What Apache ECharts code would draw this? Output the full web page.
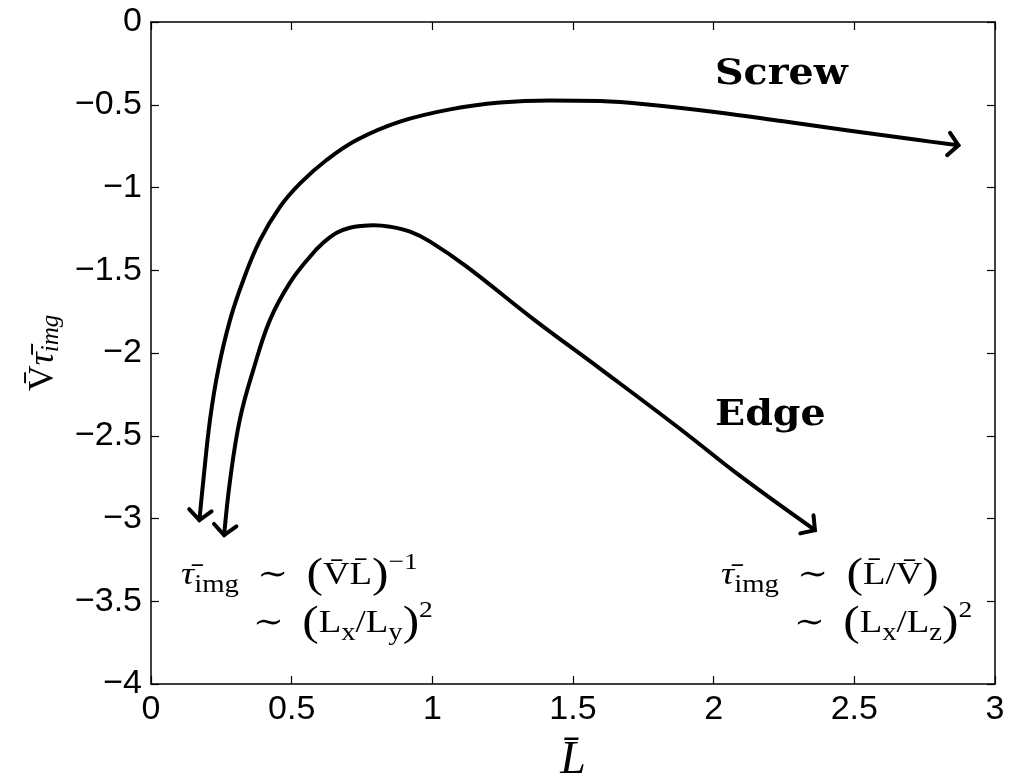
<!DOCTYPE html>
<html>
<head>
<meta charset="utf-8">
<script src="https://cdn.jsdelivr.net/npm/echarts@6/dist/echarts.min.js"></script>
<style>
html,body{margin:0;padding:0;background:#fff;}
#chart{width:1009px;height:780px;}
</style>
</head>
<body>
<div id="chart"></div>
<script>
// ---- data ----
const xTicks = [0, 0.5, 1, 1.5, 2, 2.5, 3];
const yTicks = [0, -0.5, -1, -1.5, -2, -2.5, -3, -3.5, -4];

const screwX = [0.172, 0.186, 0.210, 0.239, 0.281, 0.328, 0.387, 0.459, 0.530, 0.624, 0.731, 0.885, 1.063, 1.241, 1.418, 1.596, 1.774, 2.011, 2.247, 2.485, 2.722, 2.870];
const screwY = [-3.01, -2.77, -2.40, -2.10, -1.80, -1.56, -1.32, -1.116, -0.975, -0.834, -0.713, -0.602, -0.528, -0.487, -0.474, -0.478, -0.500, -0.545, -0.600, -0.657, -0.712, -0.745];

const edgeX = [0.260, 0.281, 0.316, 0.364, 0.423, 0.494, 0.565, 0.613, 0.660, 0.707, 0.755, 0.790, 0.850, 0.921, 0.992, 1.122, 1.359, 1.596, 1.881, 2.094, 2.360];
const edgeY = [-3.10, -2.77, -2.40, -2.10, -1.80, -1.575, -1.418, -1.333, -1.273, -1.243, -1.231, -1.228, -1.237, -1.267, -1.327, -1.478, -1.795, -2.094, -2.459, -2.743, -3.07];

// ---- build ----
const zip = (xs, ys) => xs.map((x, i) => [x, ys[i]]);

function lineSeries(xs, ys) {
  return {
    type: 'line', data: zip(xs, ys), showSymbol: false, symbol: 'none',
    smooth: 0.4,
    lineStyle: { color: '#000', width: 4, cap: 'round', join: 'round' },
    silent: true, z: 3
  };
}

// arrowheads at both ends, direction taken from the curve ends
function arrowSeries(xs, ys) {
  const n = xs.length;
  return {
    type: 'custom', silent: true, z: 4,
    data: [
      [xs[0], ys[0], xs[1], ys[1]],
      [xs[n - 1], ys[n - 1], xs[n - 2], ys[n - 2]]
    ],
    renderItem(params, api) {
      const tip = api.coord([api.value(0), api.value(1)]);
      const prev = api.coord([api.value(2), api.value(3)]);
      const ang = Math.atan2(tip[1] - prev[1], tip[0] - prev[0]);
      const L = 15, a = Math.PI * 0.27;
      const p1 = [tip[0] - L * Math.cos(ang - a), tip[1] - L * Math.sin(ang - a)];
      const p2 = [tip[0] - L * Math.cos(ang + a), tip[1] - L * Math.sin(ang + a)];
      return {
        type: 'polyline',
        shape: { points: [p1, tip, p2] },
        style: { stroke: '#000', lineWidth: 4, fill: null, lineJoin: 'miter', lineCap: 'round' }
      };
    }
  };
}

const tickFont = { fontFamily: '"Liberation Sans", Arial, sans-serif', fontSize: 34, color: '#000' };
const fmt = v => String(v).replace('-', '\u2212');

function axisCommon(extra) {
  return Object.assign({
    type: 'value',
    axisLine: { show: true, onZero: false, lineStyle: { color: '#000', width: 1.5 } },
    axisTick: { show: true, inside: true, length: 8, lineStyle: { color: '#000', width: 1.2 } },
    splitLine: { show: false }
  }, extra);
}

const serif = '"Liberation Serif", "DejaVu Serif", serif';
const richMath = {
  m: { fontFamily: serif, fontSize: 32, color: '#000' },
  mi: { fontFamily: serif, fontSize: 32, fontStyle: 'italic', color: '#000' },
  big: { fontFamily: serif, fontSize: 43, color: '#000' },
  sub: { fontFamily: serif, fontSize: 25, color: '#000', padding: [18, 0, 0, 0] },
  sup: { fontFamily: serif, fontSize: 24, color: '#000', padding: [0, 0, 26, 0] }
};

const TAU = '\u03C4\u0304', VB = 'V\u0304', LB = 'L\u0304';

function mathText(x, y, text) {
  return {
    type: 'text', x: x, y: y, scaleX: 1.15, silent: true,
    style: { text: text, rich: richMath, verticalAlign: 'middle', align: 'left' }
  };
}
function boldLabel(x, y, text) {
  return {
    type: 'text', x: x, y: y, scaleX: 1.13, silent: true,
    style: { text: text, font: 'bold 35px "DejaVu Serif", serif', fill: '#000', verticalAlign: 'middle', align: 'left' }
  };
}

const chart = echarts.init(document.getElementById('chart'), null, { renderer: 'canvas' });
chart.setOption({
  animation: false,
  backgroundColor: '#fff',
  grid: { left: 151, right: 14, top: 22, bottom: 96, containLabel: false, outerBoundsMode: 'none' },
  xAxis: [
    axisCommon({
      min: xTicks[0], max: xTicks[xTicks.length - 1], interval: 0.5, position: 'bottom',
      axisLabel: Object.assign({ margin: 9, formatter: fmt }, tickFont),
      name: '{a|' + LB + '}', nameLocation: 'middle', nameGap: 54,
      nameTextStyle: { rich: { a: { fontFamily: serif, fontStyle: 'italic', fontSize: 46, color: '#000' } } }
    }),
    axisCommon({
      min: xTicks[0], max: xTicks[xTicks.length - 1], interval: 0.5, position: 'top',
      axisLabel: { show: false }
    })
  ],
  yAxis: [
    axisCommon({
      min: yTicks[yTicks.length - 1], max: yTicks[0], interval: 0.5, position: 'left',
      axisLabel: Object.assign({ margin: 9, formatter: fmt }, tickFont),
      name: '{a|' + VB + '}{t|' + TAU + '}{s|img}', nameLocation: 'middle', nameGap: 86, nameRotate: 90,
      nameTextStyle: {
        rich: {
          a: { fontFamily: serif, fontSize: 36, color: '#000' },
          t: { fontFamily: serif, fontStyle: 'italic', fontSize: 36, color: '#000' },
          s: { fontFamily: serif, fontStyle: 'italic', fontSize: 25, color: '#000', padding: [16, 0, 0, 0] }
        }
      }
    }),
    axisCommon({
      min: yTicks[yTicks.length - 1], max: yTicks[0], interval: 0.5, position: 'right',
      axisLabel: { show: false }
    })
  ],
  series: [
    lineSeries(screwX, screwY),
    lineSeries(edgeX, edgeY),
    arrowSeries(screwX, screwY),
    arrowSeries(edgeX, edgeY)
  ],
  graphic: [
    boldLabel(715, 75, 'Screw'),
    boldLabel(715, 416, 'Edge'),
    mathText(181, 576, '{mi|' + TAU + '}{sub|img}{m|  \u223C  }{big|(}{m|' + VB + LB + '}{big|)}{sup|\u22121}'),
    mathText(253, 624, '{m|\u223C  }{big|(}{m|L}{sub|x}{m|/L}{sub|y}{big|)}{sup|2}'),
    mathText(721, 576, '{mi|' + TAU + '}{sub|img}{m|  \u223C  }{big|(}{m|' + LB + '/' + VB + '}{big|)}'),
    mathText(794, 624, '{m|\u223C  }{big|(}{m|L}{sub|x}{m|/L}{sub|z}{big|)}{sup|2}')
  ]
});
</script>
</body>
</html>
